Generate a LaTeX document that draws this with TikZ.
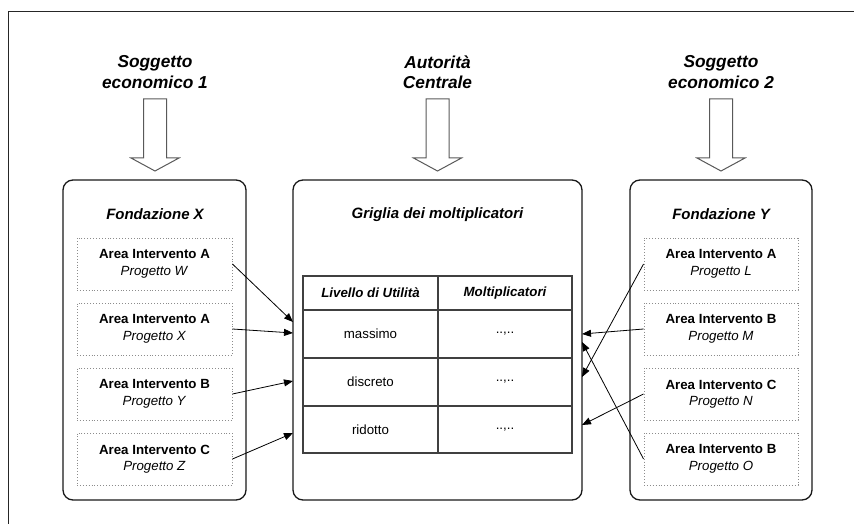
\documentclass[tikz,border=0pt]{standalone}
\usepackage{fontspec}
\setmainfont{Liberation Sans}
\usetikzlibrary{arrows.meta}

\tikzset{
  bigbox/.style={draw=black!90, line width=1.3pt, rounded corners=10pt, fill=white},
  areabox/.style={draw=black!45, dotted, line width=0.9pt, minimum width=155pt, minimum height=52pt,
                  align=center, inner sep=0pt, font=\fontsize{13.3}{16.5}\selectfont},
  cell/.style={draw=black!75, line width=1.1pt, inner sep=0pt, font=\fontsize{13.3}{16}\selectfont},
  headtxt/.style={font=\fontsize{15}{18}\selectfont\bfseries\itshape},
  toptxt/.style={align=center, font=\fontsize{17.3}{20.5}\selectfont\bfseries\itshape},
  conn/.style={-{Triangle[length=9pt,width=7pt]}, line width=0.8pt, black},
  blockarrow/.style={draw=black!65, line width=1pt, fill=white}
}

\newcommand{\areatext}[2]{\textbf{#1}\\\textit{#2}}

\begin{document}
\begin{tikzpicture}[x=1pt, y=-1pt]
  \useasboundingbox (0,0) rectangle (854,524);

  % page frame (top and left edges)
  \draw[line width=1pt, black!85] (8,524) -- (8,12) -- (854,12);

  % actors
  \node[toptxt] (s1) at (155,72) {Soggetto\\economico 1};
  \node[toptxt] (ac) at (437.5,72) {Autorità\\Centrale};
  \node[toptxt] (s2) at (721,72) {Soggetto\\economico 2};

  % hollow block arrows
  \foreach \cx in {155,437.5,721} {
    \draw[blockarrow] (\cx-11.5,99) -- (\cx+11.5,99) -- (\cx+11.5,158) -- (\cx+24,158)
      -- (\cx,171) -- (\cx-24,158) -- (\cx-11.5,158) -- cycle;
  }

  % containers
  \node[bigbox, minimum width=183pt, minimum height=320pt] (fx) at (154.5,340) {};
  \node[bigbox, minimum width=289pt, minimum height=320pt] (mid) at (437.5,340) {};
  \node[bigbox, minimum width=182pt, minimum height=320pt] (fy) at (721,340) {};

  \node[headtxt] (tfx) at (155,214) {Fondazione X};
  \node[headtxt] (tmid) at (437.5,215) {Griglia dei moltiplicatori};
  \node[headtxt] (tfy) at (721,214) {Fondazione Y};

  % projects of Fondazione X
  \node[areabox] (x1) at (154.5,264) {\areatext{Area Intervento A}{Progetto W}};
  \node[areabox] (x2) at (154.5,329) {\areatext{Area Intervento A}{Progetto X}};
  \node[areabox] (x3) at (154.5,394) {\areatext{Area Intervento B}{Progetto Y}};
  \node[areabox] (x4) at (154.5,459) {\areatext{Area Intervento C}{Progetto Z}};

  % projects of Fondazione Y
  \node[areabox, minimum width=154pt] (y1) at (721,264) {\areatext{Area Intervento A}{Progetto L}};
  \node[areabox, minimum width=154pt] (y2) at (721,329) {\areatext{Area Intervento B}{Progetto M}};
  \node[areabox, minimum width=154pt] (y3) at (721,394) {\areatext{Area Intervento C}{Progetto N}};
  \node[areabox, minimum width=154pt] (y4) at (721,459) {\areatext{Area Intervento B}{Progetto O}};

  % multiplier grid
  \node[cell, minimum width=135pt, minimum height=34pt, font=\fontsize{13.3}{16}\selectfont\bfseries\itshape] (h1) at (370.5,293) {Livello di Utilità};
  \node[cell, minimum width=134pt, minimum height=34pt, font=\fontsize{13.3}{16}\selectfont\bfseries\itshape] (h2) at (505,293) {Moltiplicatori};
  \node[cell, minimum width=135pt, minimum height=48pt] (a1) at (370.5,334) {massimo};
  \node[cell, minimum width=134pt, minimum height=48pt] (b1) at (505,334) {..,..};
  \node[cell, minimum width=135pt, minimum height=48pt] (a2) at (370.5,382) {discreto};
  \node[cell, minimum width=134pt, minimum height=48pt] (b2) at (505,382) {..,..};
  \node[cell, minimum width=135pt, minimum height=47pt] (a3) at (370.5,429.5) {ridotto};
  \node[cell, minimum width=134pt, minimum height=47pt] (b3) at (505,429.5) {..,..};

  % entry points on the grid container
  \coordinate (l1) at (293,322);
  \coordinate (l2) at (293,333);
  \coordinate (l3) at (293,381);
  \coordinate (l4) at (293,433);
  \coordinate (r1) at (582,377);
  \coordinate (r2) at (582,334);
  \coordinate (r3) at (582,425);
  \coordinate (r4) at (582,342);

  % connectors
  \draw[conn] (x1.east) -- (l1);
  \draw[conn] (x2.east) -- (l2);
  \draw[conn] (x3.east) -- (l3);
  \draw[conn] (x4.east) -- (l4);
  \draw[conn] (y1.west) -- (r1);
  \draw[conn] (y2.west) -- (r2);
  \draw[conn] (y3.west) -- (r3);
  \draw[conn] (y4.west) -- (r4);
\end{tikzpicture}
\end{document}
